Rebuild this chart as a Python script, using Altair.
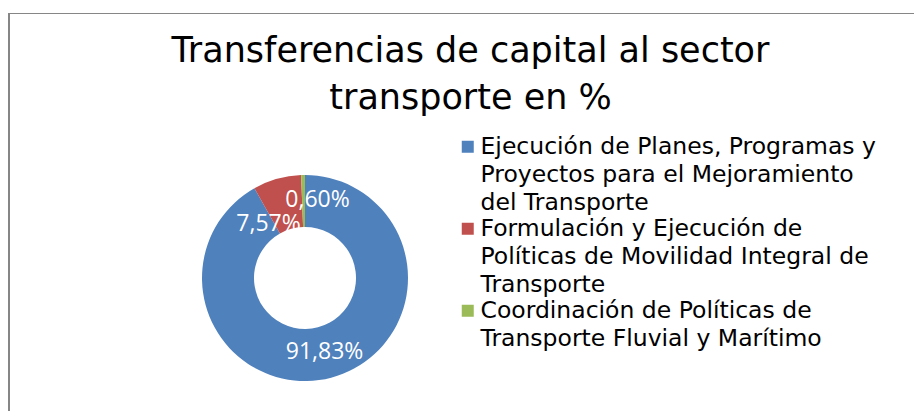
import altair as alt
import pandas as pd

# ---- data ----
categories = [
    "Ejecución de Planes, Programas y Proyectos para el Mejoramiento del Transporte",
    "Formulación y Ejecución de Políticas de Movilidad Integral de Transporte",
    "Coordinación de Políticas de Transporte Fluvial y Marítimo",
]
values = [91.83, 7.57, 0.60]
legend_lines = [
    ["Ejecución de Planes, Programas y", "Proyectos para el Mejoramiento", "del Transporte"],
    ["Formulación y Ejecución de", "Políticas de Movilidad Integral de", "Transporte"],
    ["Coordinación de Políticas de", "Transporte Fluvial y Marítimo"],
]
colors = ["#4F81BD", "#C0504D", "#9BBB59"]
title_lines = ["Transferencias de capital al sector", "transporte en %"]

LABEL_FONT = "Open Sans"
TEXT_FONT = "DejaVu Sans"

df = pd.DataFrame({"category": categories, "value": values, "order": list(range(len(values)))})


def js_str(s):
    return "'" + s.replace("'", "\\'") + "'"


label_expr = ""
for cat, lines in zip(categories, legend_lines):
    label_expr += "datum.label == " + js_str(cat) + " ? [" + ", ".join(js_str(l) for l in lines) + "] : "
label_expr += "datum.label"

base = alt.Chart(df)

donut = base.mark_arc(outerRadius=103, innerRadius=51).encode(
    theta=alt.Theta("value:Q", stack=True),
    order=alt.Order("order:Q"),
    color=alt.Color(
        "category:N",
        scale=alt.Scale(domain=categories, range=colors),
        sort=categories,
        legend=alt.Legend(
            title=None,
            orient="none",
            legendX=448,
            legendY=-13,
            labelExpr=label_expr,
            labelFont=TEXT_FONT,
            labelFontSize=23.5,
            labelColor="#000000",
            labelLimit=1000,
            labelOffset=1,
            symbolType="square",
            symbolSize=144,
            symbolStrokeWidth=0,
            symbolOpacity=1,
            rowPadding=1,
            padding=0,
        ),
    ),
)

lab = (
    base.transform_joinaggregate(total="sum(value)")
    .transform_window(cum="sum(value)", sort=[alt.SortField("order")])
    .transform_calculate(
        mid="(datum.cum - datum.value / 2) / datum.total * 2 * PI",
        label="replace(format(datum.value, '.2f'), '.', ',') + '%'",
    )
)

offsets = [(0, 0), (-15.5, 20), (14, -1.5)]
texts = []
for cat, (ddx, ddy) in zip(categories, offsets):
    texts.append(
        lab.transform_filter(alt.datum.category == cat)
        .mark_text(radius=77, dx=ddx, dy=ddy, font=LABEL_FONT, fontSize=23, color="white", baseline="middle")
        .encode(theta=alt.Theta("mid:Q", scale=None), text="label:N")
    )

one = pd.DataFrame({"a": [0]})
top_line = alt.Chart(one).mark_rule(color="#868686", strokeWidth=1).encode(
    x=alt.value(0), x2=alt.value(906), y=alt.value(-134.5)
)
left_line = alt.Chart(one).mark_rule(color="#868686", strokeWidth=2).encode(
    x=alt.value(1), y=alt.value(-135), y2=alt.value(263)
)

chart = (
    alt.layer(top_line, left_line, donut, *texts)
    .properties(
        width=594,
        height=260,
        padding={"left": 0, "top": 140, "right": 312, "bottom": 3},
        autosize=alt.AutoSizeParams(type="none"),
        title=alt.TitleParams(
            title_lines,
            font=TEXT_FONT,
            fontSize=35,
            fontWeight="normal",
            color="#000000",
            anchor="middle",
            frame="group",
            dx=165.5,
            lineHeight=47,
            offset=-104,
        ),
    )
    .configure(background="white", style={"guide-label": {"lineHeight": 28}})
    .configure_view(stroke=None)
)

chart.save("out.html", embed_options={"renderer": "svg", "actions": False})
